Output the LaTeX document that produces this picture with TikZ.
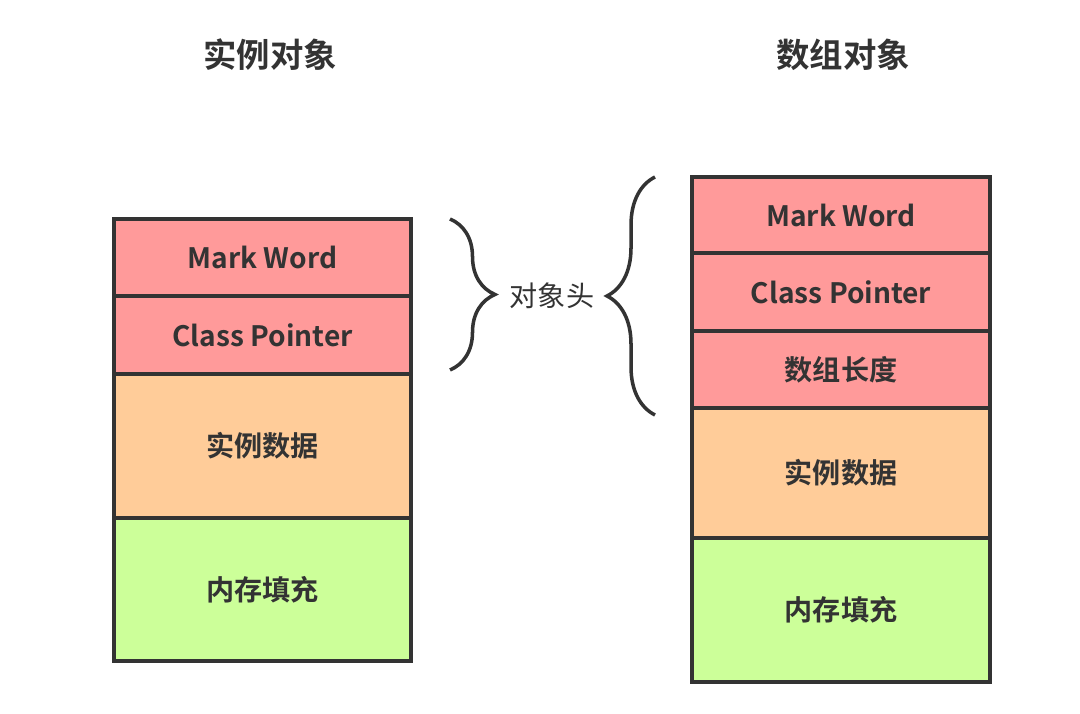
\documentclass[tikz,border=0pt]{standalone}
\usepackage{fontspec}
\setmainfont{Noto Sans CJK SC}[BoldFont={Noto Sans CJK SC Bold}]
\usetikzlibrary{positioning,decorations.pathreplacing}
\definecolor{headred}{HTML}{FF9A9A}
\definecolor{dataorange}{HTML}{FFCC99}
\definecolor{padgreen}{HTML}{CCFF99}
\definecolor{inkgray}{HTML}{333333}
\tikzset{every picture/.style={line width=1pt}}

\begin{document}
\begin{tikzpicture}[
    cell/.style={draw=inkgray, rectangle, outer sep=0pt, inner sep=0pt,
      text=inkgray, font=\fontsize{8}{10}\selectfont\bfseries},
    title/.style={text=inkgray, font=\fontsize{9.5}{11}\selectfont\bfseries},
    brc/.style={draw=inkgray, decorate, decoration={brace, amplitude=0.45cm}}
  ]
    \useasboundingbox (0,0) rectangle (10.8,-7.14);
    % Titles
    \node[title] (t1) at (2.70,-0.55) {实例对象};
    \node[title] (t2) at (8.43,-0.55) {数组对象};
    % Instance object
    \begin{scope}[every node/.append style={minimum width=2.97cm}]
      \node[cell, fill=headred, minimum height=0.77cm] (lmw) at (2.625,-2.575) {Mark Word};
      \node[cell, fill=headred, minimum height=0.78cm, below=0pt of lmw] (lcp) {Class Pointer};
      \node[cell, fill=dataorange, minimum height=1.44cm, below=0pt of lcp] (ldat) {实例数据};
      \node[cell, fill=padgreen, minimum height=1.43cm, below=0pt of ldat] (lpad) {内存填充};
    \end{scope}
    % Array object
    \begin{scope}[every node/.append style={minimum width=2.98cm}]
      \node[cell, fill=headred, minimum height=0.76cm] (rmw) at (8.41,-2.15) {Mark Word};
      \node[cell, fill=headred, minimum height=0.78cm, below=0pt of rmw] (rcp) {Class Pointer};
      \node[cell, fill=headred, minimum height=0.77cm, below=0pt of rcp] (rlen) {数组长度};
      \node[cell, fill=dataorange, minimum height=1.30cm, below=0pt of rlen] (rdat) {实例数据};
      \node[cell, fill=padgreen, minimum height=1.44cm, below=0pt of rdat] (rpad) {内存填充};
    \end{scope}
    % Header braces
    \coordinate (lb1) at (4.50,-2.19);
    \coordinate (lb2) at (4.50,-3.70);
    \coordinate (rb1) at (6.55,-4.15);
    \coordinate (rb2) at (6.55,-1.77);
    \draw[brc] (lb1) -- (lb2);
    \draw[brc, decoration={amplitude=0.48cm}] (rb1) -- (rb2);
    \node[text=inkgray, font=\fontsize{8}{10}\selectfont] (hdr) at (5.52,-2.96) {对象头};
\end{tikzpicture}
\end{document}
